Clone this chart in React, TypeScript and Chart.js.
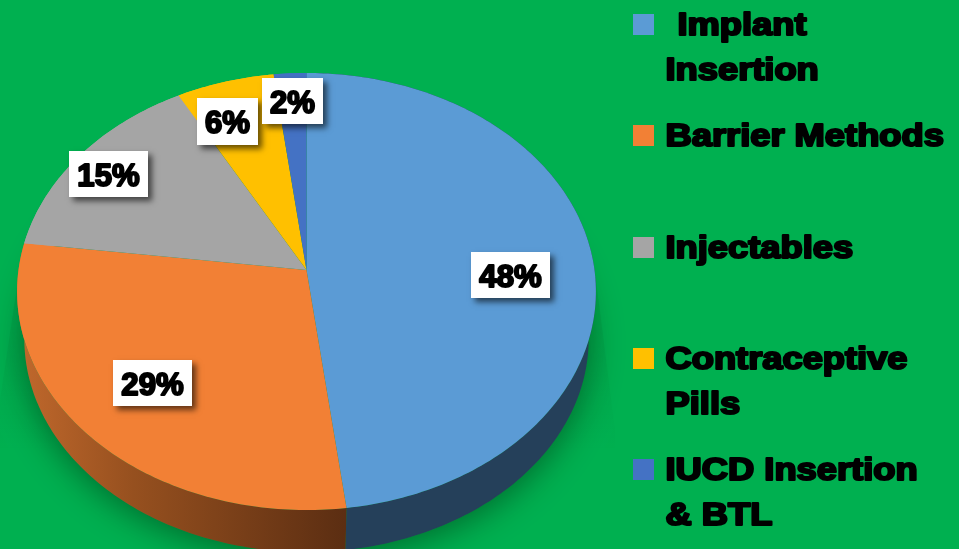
import React, { useEffect, useRef } from "react";
import { Chart, registerables } from "chart.js";

Chart.register(...registerables);

const categories = ["Implant Insertion", "Barrier Methods", "Injectables", "Contraceptive Pills", "IUCD Insertion & BTL"];
const shares = [48, 29, 15, 6, 2];
const colors = ["#5b9bd5", "#f28035", "#a5a5a5", "#ffc000", "#4472c4"];

const legendLines = [
  [" Implant", "Insertion"],
  ["Barrier Methods"],
  ["Injectables"],
  ["Contraceptive", "Pills"],
  ["IUCD Insertion", "& BTL"],
];
const legendTop = [14, 125, 237, 348, 459];
const labelBoxes = [
  [471, 252, 79, 46],
  [113, 360, 79, 46],
  [69, 151, 79, 46],
  [197, 98, 61, 47],
  [262, 78, 61, 46],
];

const FONT = 'bold 30.5px "Liberation Sans", Arial, sans-serif';
const PERSP = -0.0984;
const XS = 1.0667;
const YS = 0.8015;
const DEPTH_DY = 48;
const DEPTH_S = 0.975;

function project(el: any, theta: number, lower = false) {
  const u = Math.sin(theta);
  const v = -Math.cos(theta);
  const w = 1 + PERSP * v;
  const s = lower ? DEPTH_S : 1;
  return {
    x: el.x + (XS * el.outerRadius * u * s) / w,
    y: el.y + (YS * el.outerRadius * v * s) / w + (lower ? DEPTH_DY : 0),
  };
}

function rim(ctx: CanvasRenderingContext2D, el: any, a: number, b: number, lower: boolean, move: boolean) {
  const n = Math.max(2, Math.ceil(Math.abs(b - a) * 60));
  for (let i = 0; i <= n; i++) {
    const p = project(el, a + ((b - a) * i) / n, lower);
    if (i === 0 && move) ctx.moveTo(p.x, p.y);
    else ctx.lineTo(p.x, p.y);
  }
}

function heavyText(ctx: CanvasRenderingContext2D, text: string, x: number, y: number, sx: number, lw: number) {
  ctx.save();
  ctx.translate(x, y);
  ctx.scale(sx, 1);
  ctx.lineWidth = lw;
  ctx.fillText(text, 0, 0);
  ctx.strokeText(text, 0, 0);
  ctx.restore();
}

const pie3d = {
  id: "pie3d",
  beforeDatasetDraw(chart: any) {
    const ctx: CanvasRenderingContext2D = chart.ctx;
    const arcs: any[] = chart.getDatasetMeta(0).data;
    const toTheta = (a: number) => a + Math.PI / 2;
    ctx.save();

    // faint wedges beside the disc
    const wedge = ctx.createLinearGradient(0, 280, 0, 450);
    wedge.addColorStop(0, "rgba(0,90,30,0.14)");
    wedge.addColorStop(1, "rgba(0,90,30,0)");
    ctx.fillStyle = wedge;
    ctx.beginPath();
    ctx.moveTo(18, 280);
    ctx.lineTo(0, 400);
    ctx.lineTo(0, 450);
    ctx.lineTo(80, 450);
    ctx.lineTo(80, 280);
    ctx.closePath();
    ctx.fill();
    ctx.beginPath();
    ctx.moveTo(596, 280);
    ctx.lineTo(615, 430);
    ctx.lineTo(615, 450);
    ctx.lineTo(540, 450);
    ctx.lineTo(540, 280);
    ctx.closePath();
    ctx.fill();

    // soft cast shadow
    const whole = arcs[0];
    ctx.save();
    ctx.shadowColor = "rgba(0,50,15,0.55)";
    ctx.shadowBlur = 34;
    ctx.shadowOffsetY = 6;
    ctx.fillStyle = "#00903f";
    ctx.beginPath();
    rim(ctx, whole, 0, Math.PI * 2, true, true);
    ctx.closePath();
    ctx.fill();
    ctx.restore();

    // side walls
    arcs.forEach((el, i) => {
      const a = toTheta(el.startAngle);
      const b = toTheta(el.endAngle);
      let fill: any = "#25405a";
      if (i === 1) {
        const g = ctx.createLinearGradient(20, 0, 344, 0);
        g.addColorStop(0, "#c0682c");
        g.addColorStop(0.35, "#96501f");
        g.addColorStop(1, "#5c2e12");
        fill = g;
      } else if (i !== 0) fill = colors[i];
      ctx.fillStyle = fill;
      ctx.beginPath();
      rim(ctx, el, a, b, false, true);
      rim(ctx, el, b, a, true, false);
      ctx.closePath();
      ctx.fill();
    });

    // top faces
    arcs.forEach((el, i) => {
      ctx.fillStyle = colors[i];
      ctx.beginPath();
      ctx.moveTo(el.x, el.y);
      rim(ctx, el, toTheta(el.startAngle), toTheta(el.endAngle), false, false);
      ctx.closePath();
      ctx.fill();
    });
    ctx.restore();
    return false;
  },
  afterDatasetsDraw(chart: any) {
    const ctx: CanvasRenderingContext2D = chart.ctx;
    ctx.save();
    ctx.font = FONT;
    ctx.fillStyle = "#000";
    ctx.strokeStyle = "#000";
    ctx.lineJoin = "round";
    ctx.textBaseline = "alphabetic";

    // value labels
    shares.forEach((v, i) => {
      const [x, y, w, h] = labelBoxes[i];
      ctx.save();
      ctx.shadowColor = "rgba(0,0,0,0.6)";
      ctx.shadowBlur = 6;
      ctx.shadowOffsetX = 4;
      ctx.shadowOffsetY = 4;
      ctx.fillStyle = "#fff";
      ctx.fillRect(x, y, w, h);
      ctx.restore();
      ctx.textAlign = "center";
      heavyText(ctx, `${v}%`, x + w / 2, y + 35, 1.02, 2);
    });

    // legend
    ctx.textAlign = "left";
    legendLines.forEach((lines, i) => {
      const top = legendTop[i];
      ctx.fillStyle = colors[i];
      ctx.fillRect(633, top, 21, 21);
      ctx.fillStyle = "#000";
      lines.forEach((line, j) => {
        const y = top + 21 + j * 45;
        const indent = line.startsWith(" ") ? 12 : 0;
        heavyText(ctx, line.trim(), 665.5 + indent, y, 1.19, 2.1);
      });
    });
    ctx.restore();
  },
};

export default function App() {
  const ref = useRef<HTMLCanvasElement>(null);
  useEffect(() => {
    document.body.style.margin = "0";
    const chart = new Chart(ref.current as HTMLCanvasElement, {
      type: "pie",
      data: {
        labels: categories,
        datasets: [{ data: shares, backgroundColor: colors, borderWidth: 0 }],
      },
      options: {
        responsive: false,
        animation: false,
        events: [],
        layout: { padding: { left: 17, right: 363, top: 0, bottom: 9 } },
        plugins: { legend: { display: false }, tooltip: { enabled: false } },
      },
      plugins: [pie3d],
    } as any);
    return () => chart.destroy();
  }, []);
  return (
    <div style={{ width: 959, height: 549, background: "#00b050", overflow: "hidden" }}>
      <canvas ref={ref} width={959} height={549} style={{ display: "block" }} />
    </div>
  );
}
